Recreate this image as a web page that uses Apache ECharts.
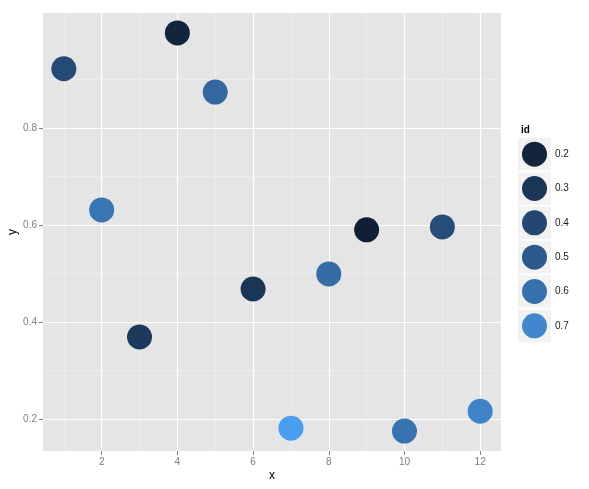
<!DOCTYPE html>
<html>
<head>
<meta charset="utf-8">
<script src="https://cdn.jsdelivr.net/npm/echarts@6/dist/echarts.min.js"></script>
<style>
  html, body { margin: 0; padding: 0; background: #fff; }
  #chart { width: 589px; height: 489px; }
</style>
</head>
<body>
<div id="chart"></div>
<script>
// data
const xs = [1, 2, 3, 4, 5, 6, 7, 8, 9, 10, 11, 12];
const ys = [0.922, 0.631, 0.369, 0.996, 0.874, 0.468, 0.181, 0.499, 0.590, 0.175, 0.596, 0.216];
const ids = [0.42, 0.62, 0.32, 0.20, 0.56, 0.30, 0.80, 0.58, 0.17, 0.61, 0.43, 0.68];

const xTicks = [2, 4, 6, 8, 10, 12];
const yTicks = [0.2, 0.4, 0.6, 0.8];
const legendVals = [0.2, 0.3, 0.4, 0.5, 0.6, 0.7];
const legendLabels = ['0.2', '0.3', '0.4', '0.5', '0.6', '0.7'];

// ggplot style expansion of the ranges
const X_MIN = 0.45, X_MAX = 12.55;
const Y_MIN = 0.134, Y_MAX = 1.037;

const tickGrey = '#7f7f7f';
const font = 'Liberation Sans, Arial, sans-serif';

const chart = echarts.init(document.getElementById('chart'));

const option = {
    backgroundColor: '#fff',
    animation: false,
    textStyle: { fontFamily: font },
    title: {
        text: 'id',
        left: 516,
        top: 120,
        textStyle: { fontSize: 10, fontWeight: 'bold', color: '#000', fontFamily: font }
    },
    grid: [
        {
            left: 43, top: 13, right: 88, bottom: 38,
            outerBoundsMode: 'none',
            containLabel: false,
            show: true, backgroundColor: '#E5E5E5', borderWidth: 0
        },
        {
            left: 518, top: 137, width: 33, height: 206,
            outerBoundsMode: 'none',
            containLabel: false
        }
    ],
    xAxis: [
        {
            type: 'value',
            gridIndex: 0,
            min: X_MIN,
            max: X_MAX,
            splitNumber: 5,
            name: 'x',
            nameLocation: 'middle',
            nameGap: 19,
            nameMoveOverlap: false,
            nameTextStyle: { fontSize: 12, color: '#000' },
            axisLine: { show: false },
            axisTick: { show: true, length: 4, customValues: xTicks, lineStyle: { color: tickGrey } },
            axisLabel: { customValues: xTicks, color: tickGrey, fontSize: 10, margin: 6 },
            splitLine: { show: true, lineStyle: { color: '#fff', width: 1.2 } },
            minorTick: { show: false, splitNumber: 2 },
            minorSplitLine: { show: true, lineStyle: { color: '#F0F0F0', width: 0.6 } }
        },
        {
            type: 'value',
            gridIndex: 1,
            min: 0,
            max: 1,
            show: false
        }
    ],
    yAxis: [
        {
            type: 'value',
            gridIndex: 0,
            min: Y_MIN,
            max: Y_MAX,
            splitNumber: 5,
            name: 'y',
            nameLocation: 'middle',
            nameGap: 24,
            nameMoveOverlap: false,
            nameTextStyle: { fontSize: 12, color: '#000' },
            axisLine: { show: false },
            axisTick: { show: true, length: 4, customValues: yTicks, lineStyle: { color: tickGrey } },
            axisLabel: {
                customValues: yTicks, color: tickGrey, fontSize: 10, margin: 6,
                formatter: v => v.toFixed(1)
            },
            splitLine: { show: true, lineStyle: { color: '#fff', width: 1.2 } },
            minorTick: { show: false, splitNumber: 2 },
            minorSplitLine: { show: true, lineStyle: { color: '#F0F0F0', width: 0.6 } }
        },
        {
            type: 'category',
            gridIndex: 1,
            data: legendLabels,
            inverse: true,
            position: 'right',
            axisLine: { show: false },
            axisTick: { show: false },
            splitLine: { show: false },
            axisLabel: { color: '#1a1a1a', fontSize: 10, margin: 4 }
        }
    ],
    visualMap: {
        type: 'continuous',
        show: false,
        dimension: 2,
        seriesIndex: [0, 2],
        min: Math.min(...ids),
        max: Math.max(...ids),
        inRange: { color: ['#0f2035', '#2a5686', '#4a9ef0'] }
    },
    series: [
        {
            type: 'scatter',
            xAxisIndex: 0,
            yAxisIndex: 0,
            symbolSize: 25,
            data: xs.map((x, i) => [x, ys[i], ids[i]]),
            itemStyle: { opacity: 1 }
        },
        {
            // legend key backgrounds
            type: 'bar',
            xAxisIndex: 1,
            yAxisIndex: 1,
            silent: true,
            barCategoryGap: '5%',
            data: legendLabels.map(() => 1),
            itemStyle: { color: '#F2F2F2' }
        },
        {
            type: 'scatter',
            xAxisIndex: 1,
            yAxisIndex: 1,
            symbolSize: 25,
            silent: true,
            data: legendVals.map((v, i) => [0.5, legendLabels[i], v]),
            itemStyle: { opacity: 1 }
        }
    ]
};

chart.setOption(option);
</script>
</body>
</html>
